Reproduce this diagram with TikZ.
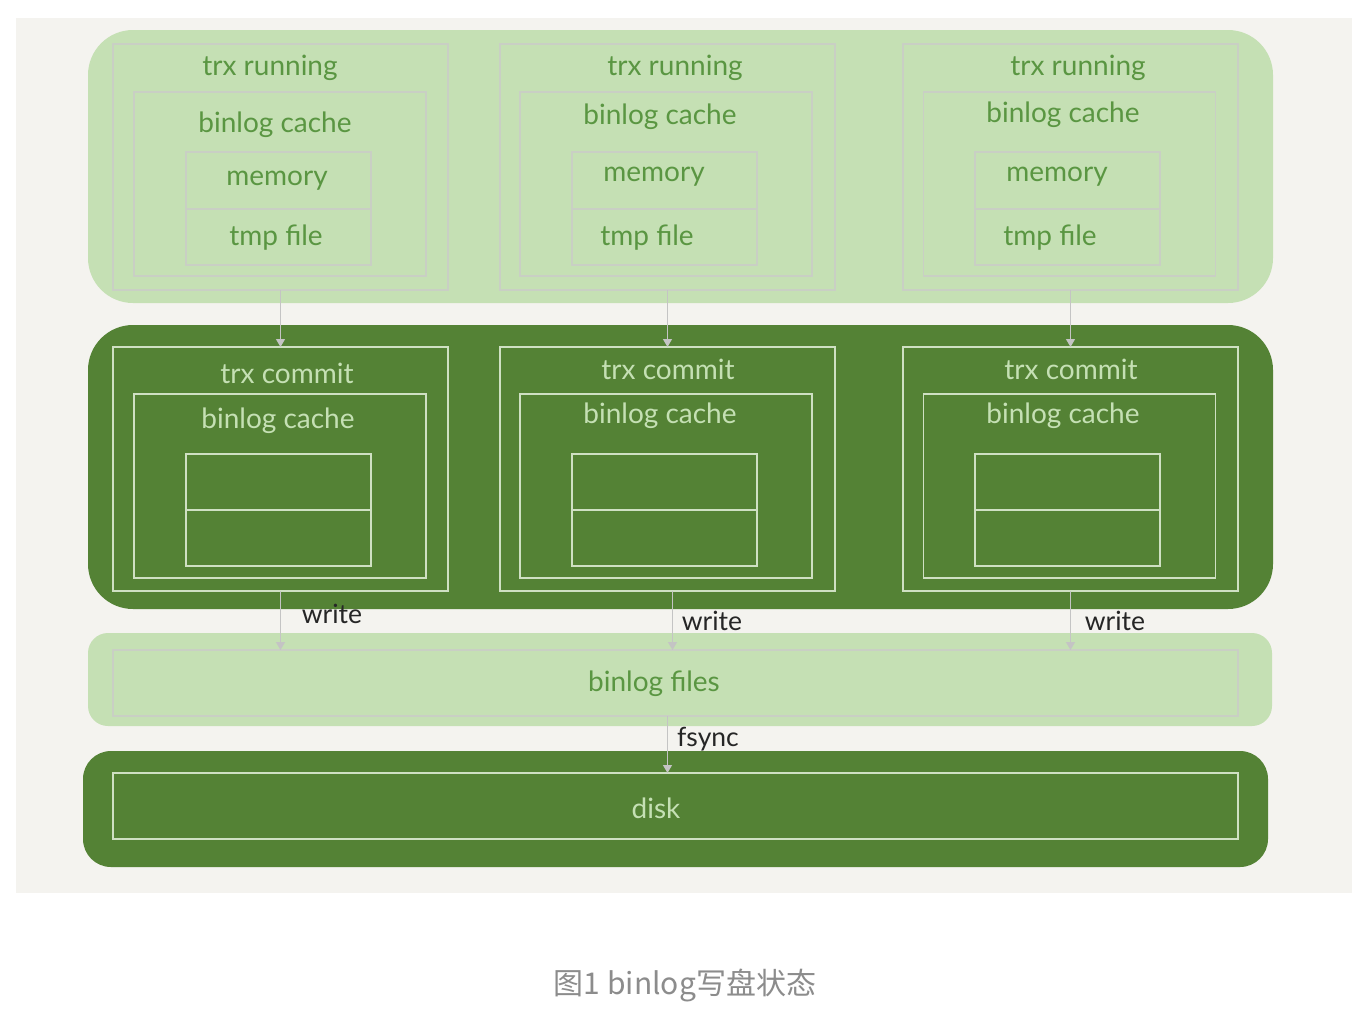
\documentclass[tikz,border=0pt]{standalone}
\usepackage{fontspec}
\setmainfont{Lato}
\newfontfamily\cjkfont{Noto Sans CJK SC}
\usetikzlibrary{arrows.meta,positioning}
\definecolor{bggray}{HTML}{F4F3EF}
\definecolor{lightgreen}{HTML}{C5E0B4}
\definecolor{darkgreen}{HTML}{548235}
\definecolor{lightline}{HTML}{C9CFC4}
\definecolor{darkline}{HTML}{CFE0C3}
\definecolor{midtext}{HTML}{5A9642}
\definecolor{arrowgray}{HTML}{C4C4C4}
\definecolor{captiongray}{HTML}{8C8C8C}
\tikzset{
  blk/.style={inner sep=0pt, outer sep=0pt},
  lbox/.style={draw=lightline, line width=1.5pt, inner sep=0pt, outer sep=0pt},
  dbox/.style={draw=darkline, line width=1.5pt, inner sep=0pt, outer sep=0pt},
  ltxt/.style={text=midtext, font=\fontsize{28}{30}\selectfont, inner sep=0pt},
  dtxt/.style={text=lightgreen, font=\fontsize{28}{30}\selectfont, inner sep=0pt},
  ktxt/.style={text=black!85, font=\fontsize{26.5}{30}\selectfont, inner sep=0pt},
  arr/.style={draw=arrowgray, line width=1.2pt, -{Triangle[width=9pt,length=8pt]}},
}
\begin{document}
\begin{tikzpicture}[x=1pt,y=-1pt]
\useasboundingbox (0,0) rectangle (1359,1015);
\fill[white] (0,0) rectangle (1359,1015);
\fill[bggray] (16,18) rectangle (1352,893);
% top block
\node[blk, fill=lightgreen, rounded corners=45pt, minimum width=1185pt, minimum height=273pt] (top) at (680.5,166.5) {};
% commit block
\node[blk, fill=darkgreen, rounded corners=45pt, minimum width=1185pt, minimum height=284pt] (mid) at (680.5,467) {};
% binlog files block
\node[blk, fill=lightgreen, rounded corners=20pt, minimum width=1184pt, minimum height=93pt] (files) at (680,679.5) {};
% disk block
\node[blk, fill=darkgreen, rounded corners=28pt, minimum width=1185pt, minimum height=116pt] (diskblk) at (675.5,809) {};

% running columns
\foreach \n/\cx/\ix/\mx in {1/280.5/280/278.5, 2/667.5/666/664.5, 3/1070.5/1069.5/1067.5} {
  \node[lbox, minimum width=335pt, minimum height=246pt] (r\n o) at (\cx,167) {};
  \node[lbox, minimum width=292pt, minimum height=184pt] (r\n i) at (\ix,184) {};
  \node[lbox, minimum width=185pt, minimum height=57pt] (r\n m) at (\mx,180.5) {};
  \node[lbox, minimum width=185pt, minimum height=56pt] (r\n t) at (\mx,237) {};
  \node[dbox, minimum width=335pt, minimum height=244pt] (c\n o) at (\cx,469) {};
  \node[dbox, minimum width=292pt, minimum height=184pt] (c\n i) at (\ix,486) {};
  \node[dbox, minimum width=185pt, minimum height=56pt] (c\n m) at (\mx,482) {};
  \node[dbox, minimum width=185pt, minimum height=56pt] (c\n t) at (\mx,538) {};
}
% running labels
\node[ltxt] (r1l) at (270,68) {trx running};
\node[ltxt] (r2l) at (675,68) {trx running};
\node[ltxt] (r3l) at (1078,68) {trx running};
\node[ltxt] (r1c) at (275,125) {binlog cache};
\node[ltxt] (r2c) at (660,117) {binlog cache};
\node[ltxt] (r3c) at (1063,115) {binlog cache};
\node[ltxt] (r1me) at (277,181) {memory};
\node[ltxt] (r2me) at (654,177) {memory};
\node[ltxt] (r3me) at (1057,177) {memory};
\node[ltxt] (r1tf) at (276,238) {tmp file};
\node[ltxt] (r2tf) at (647,238) {tmp file};
\node[ltxt] (r3tf) at (1050,238) {tmp file};
% commit labels
\node[dtxt] (c1l) at (287,373) {trx commit};
\node[dtxt] (c2l) at (668,369) {trx commit};
\node[dtxt] (c3l) at (1071,369) {trx commit};
\node[dtxt] (c1c) at (278,421) {binlog cache};
\node[dtxt] (c2c) at (660,416) {binlog cache};
\node[dtxt] (c3c) at (1063,416) {binlog cache};

% binlog files / disk inner boxes
\node[lbox, minimum width=1125pt, minimum height=66pt] (bf) at (675.5,683) {};
\node[ltxt] (bfl) at (654,684) {binlog files};
\node[dbox, minimum width=1125pt, minimum height=66pt] (dk) at (675.5,806) {};
\node[dtxt] (dkl) at (656,808) {disk};

% arrows running -> commit
\foreach \n in {1,2,3} {
  \draw[arr] (r\n o.south) -- (c\n o.north);
}
% write arrows
\draw[arr] (c1o.south) -- (c1o.south |- bf.north);
\draw[arr] ([xshift=5pt]c2o.south) -- ([xshift=5pt]c2o.south |- bf.north);
\draw[arr] (c3o.south) -- (c3o.south |- bf.north);
\node[ktxt] (w1) at (332,614) {write};
\node[ktxt] (w2) at (712,621) {write};
\node[ktxt] (w3) at (1115,621) {write};
% fsync
\draw[arr] (c2o.south |- bf.south) -- (c2o.south |- dk.north);
\node[ktxt] (fs) at (708,739) {fsync};

% caption
\node[text=captiongray, font=\cjkfont\fontsize{30}{32}\selectfont, inner sep=0pt] (cap) at (685,985) {图1 binlog写盘状态};
\end{tikzpicture}
\end{document}
